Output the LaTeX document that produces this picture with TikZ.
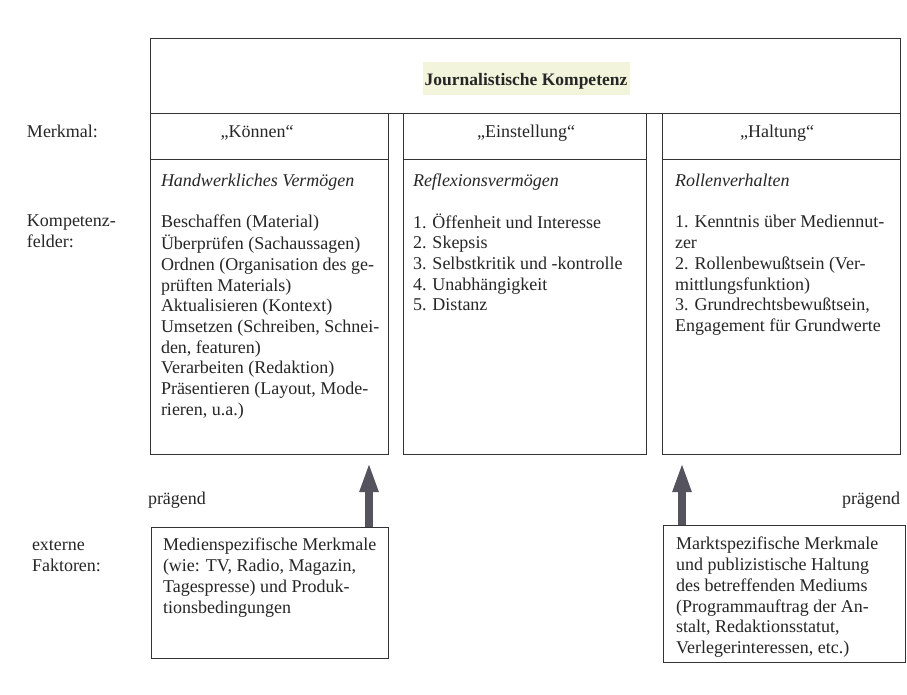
\documentclass[tikz,border=0pt]{standalone}
\usepackage{fontspec}
\setmainfont{Liberation Serif}
\usetikzlibrary{arrows.meta}
\definecolor{linecol}{HTML}{333333}
\definecolor{hlcol}{HTML}{F2F5DC}
\definecolor{arrcol}{HTML}{55535E}
\definecolor{inkcol}{HTML}{262626}
\begin{document}
\begin{tikzpicture}[x=1pt,y=-1pt,
  frame/.style={draw=linecol, line width=0.9pt, inner sep=0pt, outer sep=0pt, anchor=north west},
  txt/.style={font=\fontsize{18}{20.7}\selectfont, inner sep=0pt, outer sep=0pt, anchor=north west, align=left, text=inkcol},
  lbl/.style={font=\fontsize{18}{20.7}\selectfont, inner sep=0pt, outer sep=0pt, text=inkcol},
  bigarrow/.style={draw=arrcol, line width=8pt, -{Triangle[length=30pt,width=17pt]}, shorten >=8pt}
]
\fill[white] (0,0) rectangle (907,695);
\useasboundingbox (0,0) rectangle (907,695);

% frames
\node[frame, minimum width=750pt, minimum height=75pt] (tbox) at (150,38) {};
\node[frame, minimum width=238pt, minimum height=46pt] (h1) at (150,113) {};
\node[frame, minimum width=243pt, minimum height=46pt] (h2) at (403,113) {};
\node[frame, minimum width=238pt, minimum height=46pt] (h3) at (662,113) {};
\node[frame, minimum width=238pt, minimum height=295pt] (b1) at (150,159) {};
\node[frame, minimum width=243pt, minimum height=295pt] (b2) at (403,159) {};
\node[frame, minimum width=238pt, minimum height=295pt] (b3) at (662,159) {};
\node[frame, minimum width=237pt, minimum height=131pt] (lbox) at (151,527) {};
\node[frame, minimum width=242pt, minimum height=137pt] (rbox) at (663,525) {};

% title
\fill[hlcol] (423,62) rectangle (630,95);
\node[lbl, anchor=base, font=\fontsize{17.5}{20}\selectfont\bfseries] (title) at (526,86) {Journalistische Kompetenz};

% headers
\node[lbl, anchor=base] (hk) at (257,138) {„Können“};
\node[lbl, anchor=base] (he) at (526,138) {„Einstellung“};
\node[lbl, anchor=base] (hh) at (777,138) {„Haltung“};

% left labels
\node[lbl, anchor=base west] (merk) at (27,138) {Merkmal:};
\node[txt] (komp) at (27,212.5) {\strut Kompetenz-\\felder:};
\node[txt] (ext) at (32,536.5) {\strut externe\\Faktoren:};

% column headings
\node[lbl, anchor=base west, font=\fontsize{18}{20.7}\selectfont\itshape] (c1) at (161,187) {Handwerkliches Vermögen};
\node[lbl, anchor=base west, font=\fontsize{18}{20.7}\selectfont\itshape] (c2) at (413,187) {Reflexionsvermögen};
\node[lbl, anchor=base west, font=\fontsize{18}{20.7}\selectfont\itshape] (c3) at (675,187) {Rollenverhalten};

% column texts
\node[txt] (t1) at (161,213.5) {\strut Beschaffen (Material)\\
Überprüfen (Sachaussagen)\\
Ordnen (Organisation des ge-\\
prüften Materials)\\
Aktualisieren (Kontext)\\
Umsetzen (Schreiben, Schnei-\\
den, featuren)\\
Verarbeiten (Redaktion)\\
Präsentieren (Layout, Mode-\\
rieren, u.a.)};

\node[txt] (t2) at (413,213.5) {\strut 1. Öffenheit und Interesse\\
2. Skepsis\\
3. Selbstkritik und -kontrolle\\
4. Unabhängigkeit\\
5. Distanz};

\node[txt] (t3) at (675,213.5) {\strut 1. Kenntnis über Mediennut-\\
zer\\
2. Rollenbewußtsein (Ver-\\
mittlungsfunktion)\\
3. Grundrechtsbewußtsein,\\
Engagement für Grundwerte};

% bottom texts
\node[txt] (lt) at (163,536.5) {\strut Medienspezifische Merkmale\\
(wie: TV, Radio, Magazin,\\
Tagespresse) und Produk-\\
tionsbedingungen};

\node[txt] (rt) at (676,535.5) {\strut Marktspezifische Merkmale\\
und publizistische Haltung\\
des betreffenden Mediums\\
(Programmauftrag der An-\\
stalt, Redaktionsstatut,\\
Verlegerinteressen, etc.)};

\node[lbl, anchor=base west] (pl) at (148,504) {prägend};
\node[lbl, anchor=base east] (pr) at (900,504) {prägend};

% arrows
\coordinate (a1) at (369,0);
\coordinate (a2) at (682,0);
\draw[bigarrow] (lbox.north -| a1) -- (b1.south -| a1);
\draw[bigarrow] (rbox.north -| a2) -- (b3.south -| a2);
\end{tikzpicture}
\end{document}
